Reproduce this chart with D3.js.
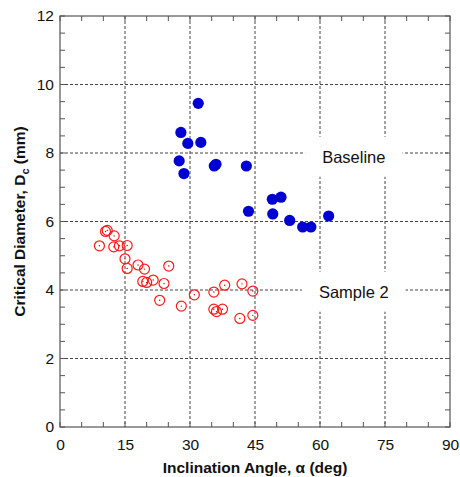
<!DOCTYPE html>
<html>
<head>
<meta charset="utf-8">
<script src="https://cdn.jsdelivr.net/npm/d3@7"></script>
<style>
    body { margin: 0; background: #fff; }
    svg { display: block; font-family: "Liberation Sans", Arial, Helvetica, sans-serif; }
</style>
</head>
<body>
<svg id="chart" width="460" height="477"></svg>
<script>
// Baseline (filled blue dots)
const baselineAngle = [31.9, 27.9, 29.5, 32.5, 27.5, 28.6, 35.6, 36.0, 43.0, 43.5, 49.0, 51.0, 49.1, 53.0, 56.0, 57.9, 62.0];
const baselineDiam  = [9.45, 8.60, 8.28, 8.31, 7.77, 7.40, 7.62, 7.67, 7.62, 6.30, 6.65, 6.71, 6.22, 6.03, 5.84, 5.84, 6.16];

// Sample 2 (open red circles)
const sampleAngle = [9.1, 10.5, 10.9, 12.5, 12.4, 13.7, 15.5, 15.0, 15.5, 18.0, 19.5, 25.1, 19.1, 20.0,
                     21.5, 24.0, 23.0, 28.0, 31.0, 35.5, 38.0, 42.0, 44.5, 35.5, 36.1, 37.5, 41.5, 44.5];
const sampleDiam  = [5.29, 5.71, 5.74, 5.58, 5.26, 5.29, 5.30, 4.91, 4.63, 4.73, 4.61, 4.70, 4.25, 4.22,
                     4.29, 4.19, 3.70, 3.53, 3.86, 3.94, 4.14, 4.18, 3.97, 3.44, 3.37, 3.44, 3.17, 3.26];

const xTicks = [0, 15, 30, 45, 60, 75, 90];
const yTicks = [0, 2, 4, 6, 8, 10, 12];

// text labels inside the plot: [text, angle, diameter]
const annotations = [
    ['Baseline', 67.8, 7.89],
    ['Sample 2', 67.8, 3.95]
];

const margin = {top: 16, right: 10, bottom: 50, left: 60};
const width = 460 - margin.left - margin.right;
const height = 477 - margin.top - margin.bottom;

const svg = d3.select('#chart');
const g = svg.append('g').attr('transform', `translate(${margin.left},${margin.top})`);

const x = d3.scaleLinear().domain([0, 90]).range([0, width]);
const y = d3.scaleLinear().domain([0, 12]).range([height, 0]);

const frameColor = '#555';
const gridColor = '#444';

// dashed grid at major ticks
g.append('g').selectAll('line')
    .data(xTicks.slice(1, -1))
    .enter().append('line')
    .attr('x1', d => x(d)).attr('x2', d => x(d))
    .attr('y1', 0).attr('y2', height)
    .attr('stroke', gridColor).attr('stroke-width', 1)
    .attr('stroke-dasharray', '3,2');

g.append('g').selectAll('line')
    .data(yTicks.slice(1, -1))
    .enter().append('line')
    .attr('x1', 0).attr('x2', width)
    .attr('y1', d => y(d)).attr('y2', d => y(d))
    .attr('stroke', gridColor).attr('stroke-width', 1)
    .attr('stroke-dasharray', '3,2');

// minor ticks, inward on all four sides
const xMinor = d3.range(0, 90.01, 5);
const yMinor = d3.range(0, 12.01, 0.5);
const tickLen = 5;

const ticks = g.append('g').attr('stroke', frameColor).attr('stroke-width', 1);
xMinor.forEach(v => {
    ticks.append('line').attr('x1', x(v)).attr('x2', x(v)).attr('y1', height).attr('y2', height - tickLen);
    ticks.append('line').attr('x1', x(v)).attr('x2', x(v)).attr('y1', 0).attr('y2', tickLen);
});
yMinor.forEach(v => {
    ticks.append('line').attr('x1', 0).attr('x2', tickLen).attr('y1', y(v)).attr('y2', y(v));
    ticks.append('line').attr('x1', width).attr('x2', width - tickLen).attr('y1', y(v)).attr('y2', y(v));
});

// frame
g.append('rect')
    .attr('width', width).attr('height', height)
    .attr('fill', 'none').attr('stroke', frameColor).attr('stroke-width', 1.2);

// tick labels
const xAxis = d3.axisBottom(x).tickValues(xTicks).tickSize(0).tickPadding(12);
g.append('g')
    .attr('transform', `translate(0,${height})`)
    .call(xAxis)
    .call(s => s.select('.domain').remove())
    .selectAll('text')
    .attr('font-size', 15.5).attr('font-family', null).attr('fill', '#111');

const yAxis = d3.axisLeft(y).tickValues(yTicks).tickSize(0).tickPadding(6);
g.append('g')
    .call(yAxis)
    .call(s => s.select('.domain').remove())
    .selectAll('text')
    .attr('font-size', 15.5).attr('font-family', null).attr('fill', '#111');

// annotations with white boxes that break the grid
annotations.forEach(([label, ax, ay]) => {
    const ag = g.append('g');
    const box = ag.append('rect').attr('fill', '#fff');
    const t = ag.append('text')
        .attr('x', x(ax)).attr('y', y(ay))
        .attr('text-anchor', 'middle')
        .attr('dominant-baseline', 'central')
        .attr('font-size', 16.5)
        .attr('fill', '#111')
        .text(label);
    const bb = t.node().getBBox();
    box.attr('x', bb.x - 17).attr('y', y(ay) - 20)
        .attr('width', bb.width + 34).attr('height', 40);
});

// data
const plot = g.append('g');

plot.selectAll('circle.base')
    .data(d3.zip(baselineAngle, baselineDiam))
    .enter().append('circle')
    .attr('class', 'base')
    .attr('cx', d => x(d[0])).attr('cy', d => y(d[1]))
    .attr('r', 5.6)
    .attr('fill', '#0000d2');

const samples = plot.selectAll('g.sample')
    .data(d3.zip(sampleAngle, sampleDiam))
    .enter().append('g')
    .attr('class', 'sample')
    .attr('transform', d => `translate(${x(d[0])},${y(d[1])})`);

samples.append('circle')
    .attr('r', 5)
    .attr('fill', 'none')
    .attr('stroke', '#ff1a1a')
    .attr('stroke-width', 1.2);

samples.append('circle')
    .attr('r', 0.7)
    .attr('fill', '#c00');

// axis titles
svg.append('text')
    .attr('x', margin.left + width / 2)
    .attr('y', 473)
    .attr('text-anchor', 'middle')
    .attr('font-size', 15.5)
    .attr('font-weight', 'bold')
    .attr('fill', '#111')
    .text('Inclination Angle, α (deg)');

const yTitle = svg.append('text')
    .attr('transform', `translate(25,${margin.top + height / 2}) rotate(-90)`)
    .attr('text-anchor', 'middle')
    .attr('font-size', 15.5)
    .attr('font-weight', 'bold')
    .attr('fill', '#111');
yTitle.append('tspan').text('Critical Diameter, D');
yTitle.append('tspan').attr('font-size', 11).attr('dy', 4).text('c');
yTitle.append('tspan').attr('dy', -4).text(' (mm)');
</script>
</body>
</html>
